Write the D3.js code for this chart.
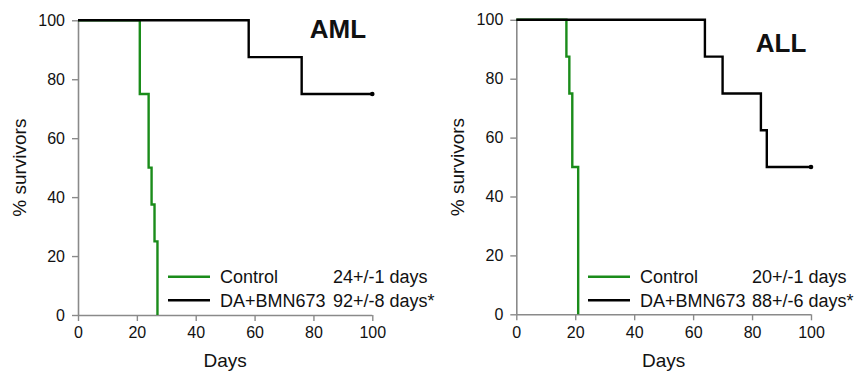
<!DOCTYPE html>
<html><head><meta charset="utf-8">
<script src="https://cdn.jsdelivr.net/npm/d3@7"></script>
<style>
html,body{margin:0;padding:0;background:#fff;}
text{font-family:"Liberation Sans",Arial,sans-serif;fill:#111;}
</style></head>
<body><svg id="c" width="857" height="376"></svg>
<script>
// Data (Kaplan–Meier steps: [day, % survivors])
const xTicks = [0, 20, 40, 60, 80, 100];
const yTicks = [0, 20, 40, 60, 80, 100];
const amlControl = [[0,100],[21,75],[24,50],[25,37.5],[26,25],[27,0]];
const amlTreated = [[0,100],[58,87.5],[76,75],[100,75]];
const allControl = [[0,100],[17,87.5],[18,75],[19,50],[21,0]];
const allTreated = [[0,100],[64,87.5],[70,75],[83,62.5],[85,50],[100,50]];
const panelTitles = ["AML", "ALL"];
const seriesNames = ["Control", "DA+BMN673"];
const amlStats = ["24+/-1 days", "92+/-8 days*"];
const allStats = ["20+/-1 days", "88+/-6 days*"];
const colors = ["#1a8c1a", "#000000"];

const svg = d3.select("#c");

const panels = [
  {title: panelTitles[0], ctrl: amlControl, trt: amlTreated, stats: amlStats, endCensored: true,
   x0: 78, x1: 372.3, yTop: 20.3, yBot: 315, titleX: 338, titleY: 38,
   ylabX: 19, legX: 168, statX: 333},
  {title: panelTitles[1], ctrl: allControl, trt: allTreated, stats: allStats, endCensored: true,
   x0: 516.3, x1: 811, yTop: 19.8, yBot: 314.3, titleX: 781, titleY: 52,
   ylabX: 457, legX: 588, statX: 752}
];

panels.forEach(p => {
  const x = d3.scaleLinear().domain([0,100]).range([p.x0, p.x1]);
  const y = d3.scaleLinear().domain([0,100]).range([p.yBot, p.yTop]);
  const g = svg.append("g");

  // axes
  const xa = g.append("g").attr("transform", `translate(0,${p.yBot})`)
    .call(d3.axisBottom(x).tickValues(xTicks).tickSize(6).tickPadding(6).tickFormat(d3.format("d")));
  const ya = g.append("g").attr("transform", `translate(${p.x0},0)`)
    .call(d3.axisLeft(y).tickValues(yTicks).tickSize(6).tickPadding(7).tickFormat(d3.format("d")));
  [xa, ya].forEach(a => {
    a.select(".domain").attr("stroke", "#8a8a8a").attr("stroke-width", 1.6);
    a.selectAll(".tick line").attr("stroke", "#8a8a8a").attr("stroke-width", 1.4);
    a.selectAll("text").style("font-size", "16px").style("font-family", '"Liberation Sans",Arial,sans-serif').attr("fill", "#111");
  });
  ya.select(".domain").attr("d", `M0.5,${p.yBot}V${p.yTop}`);
  xa.select(".domain").attr("d", `M${p.x0},0.5H${p.x1}`);

  // step lines
  const line = d3.line().x(d => x(d[0])).y(d => y(d[1])).curve(d3.curveStepAfter);
  [p.ctrl, p.trt].forEach((s, i) => {
    g.append("path").datum(s).attr("d", line).attr("fill", "none")
      .attr("stroke", colors[i]).attr("stroke-width", 2.4).attr("stroke-linejoin", "miter");
  });
  // censor dot at end
  const last = p.trt[p.trt.length-1];
  g.append("circle").attr("cx", x(last[0])).attr("cy", y(last[1])).attr("r", 2.3).attr("fill", "#000");

  // title
  g.append("text").attr("x", p.titleX).attr("y", p.titleY).attr("text-anchor", "middle")
    .style("font-size", "26px").style("font-weight", "bold").text(p.title);

  // axis labels
  g.append("text").attr("x", (p.x0+p.x1)/2).attr("y", 367).attr("text-anchor", "middle")
    .style("font-size", "19px").text("Days");
  g.append("text").attr("transform", `translate(${p.ylabX},${(p.yTop+p.yBot)/2}) rotate(-90)`)
    .attr("text-anchor", "middle").attr("dy", "0.35em").style("font-size", "19px").text("% survivors");

  // legend
  seriesNames.forEach((n, i) => {
    const ly = 276.7 + i*23.5;
    g.append("line").attr("x1", p.legX).attr("x2", p.legX+42).attr("y1", ly).attr("y2", ly)
      .attr("stroke", colors[i]).attr("stroke-width", 2.6);
    g.append("text").attr("x", p.legX+52).attr("y", ly+6.5).style("font-size", "18px").text(n);
    g.append("text").attr("x", p.statX).attr("y", ly+6.5).style("font-size", "18px").text(p.stats[i]);
  });
});
</script></body></html>
